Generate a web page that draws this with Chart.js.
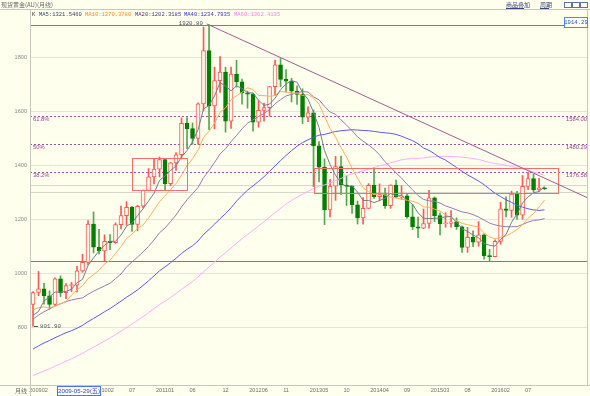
<!DOCTYPE html>
<html lang="zh-CN">
<head>
<meta charset="UTF-8">
<title>现货黄金 月线</title>
<script src="https://cdn.jsdelivr.net/npm/chart.js@4.4.0/dist/chart.umd.min.js"></script>
<style>
  html, body { margin: 0; padding: 0; background: #ffffee; }
  #wrap { width: 590px; height: 396px; }
</style>
</head>
<body>
<div id="wrap"><canvas id="kChart" width="590" height="396"></canvas></div>
<script>
// 月线 200901 .. 201610
const months = [
  '200901','200902','200903','200904','200905','200906','200907','200908','200909','200910','200911','200912',
  '201001','201002','201003','201004','201005','201006','201007','201008','201009','201010','201011','201012',
  '201101','201102','201103','201104','201105','201106','201107','201108','201109','201110','201111','201112',
  '201201','201202','201203','201204','201205','201206','201207','201208','201209','201210','201211','201212',
  '201301','201302','201303','201304','201305','201306','201307','201308','201309','201310','201311','201312',
  '201401','201402','201403','201404','201405','201406','201407','201408','201409','201410','201411','201412',
  '201501','201502','201503','201504','201505','201506','201507','201508','201509','201510','201511','201512',
  '201601','201602','201603','201604','201605','201606','201607','201608','201609','201610'
];
const openP = [
  884, 928, 942, 916, 884, 979, 927, 954, 955, 1008, 1040, 1182,
  1096, 1082, 1118, 1113, 1180, 1213, 1244, 1181, 1248, 1307, 1357, 1386,
  1421, 1332, 1409, 1439, 1556, 1536, 1500, 1628, 1826, 1620, 1714, 1746,
  1564, 1738, 1710, 1669, 1664, 1560, 1604, 1614, 1692, 1773, 1719, 1712,
  1675, 1663, 1579, 1595, 1472, 1393, 1234, 1323, 1395, 1327, 1323, 1253,
  1205, 1240, 1326, 1284, 1291, 1250, 1327, 1282, 1287, 1209, 1172, 1167,
  1184, 1279, 1213, 1183, 1184, 1190, 1172, 1095, 1133, 1115, 1142, 1065,
  1061, 1118, 1238, 1233, 1293, 1215, 1322, 1351, 1309, 1316
];
const highP = [
  931, 1006, 962, 934, 982, 990, 961, 966, 1025, 1070, 1195, 1227,
  1162, 1142, 1143, 1186, 1249, 1265, 1248, 1252, 1308, 1388, 1424, 1431,
  1423, 1411, 1447, 1576, 1577, 1557, 1632, 1913, 1920.8, 1764, 1803, 1764,
  1764, 1790, 1720, 1676, 1668, 1640, 1631, 1693, 1790, 1796, 1755, 1723,
  1695, 1684, 1617, 1605, 1488, 1424, 1348, 1433, 1434, 1361, 1324, 1267,
  1280, 1332, 1392, 1331, 1315, 1328, 1345, 1324, 1292, 1255, 1208, 1238,
  1307, 1283, 1224, 1224, 1232, 1205, 1175, 1170, 1157, 1191, 1146, 1088,
  1123, 1263, 1283, 1304, 1303, 1362, 1375, 1367, 1352, 1318
];
const lowP = [
  801.9, 916, 885, 866, 880, 913, 905, 931, 930, 1003, 1030, 1075,
  1071, 1045, 1087, 1110, 1164, 1177, 1155, 1157, 1242, 1305, 1331, 1357,
  1308, 1324, 1381, 1423, 1462, 1478, 1478, 1603, 1532, 1535, 1670, 1523,
  1537, 1690, 1627, 1612, 1527, 1541, 1564, 1582, 1660, 1691, 1672, 1635,
  1626, 1555, 1562, 1321, 1338, 1180, 1208, 1270, 1291, 1251, 1221, 1182,
  1182, 1238, 1277, 1268, 1240, 1240, 1281, 1273, 1204, 1161, 1131, 1165,
  1167, 1191, 1142, 1170, 1170, 1162, 1077, 1077, 1098, 1100, 1052, 1046,
  1060, 1107, 1208, 1207, 1199, 1200, 1310, 1301, 1303, 1310
];
const closeP = [
  928, 942, 916, 884, 979, 927, 954, 955, 1008, 1040, 1182, 1096,
  1082, 1118, 1113, 1180, 1213, 1244, 1181, 1248, 1307, 1357, 1386, 1421,
  1332, 1409, 1439, 1556, 1536, 1500, 1628, 1826, 1620, 1714, 1746, 1564,
  1738, 1710, 1669, 1664, 1560, 1604, 1614, 1692, 1773, 1719, 1712, 1675,
  1663, 1579, 1595, 1472, 1393, 1234, 1323, 1395, 1327, 1323, 1253, 1205,
  1240, 1326, 1284, 1291, 1250, 1327, 1282, 1287, 1209, 1172, 1167, 1184,
  1279, 1213, 1183, 1184, 1190, 1172, 1095, 1133, 1115, 1142, 1065, 1061,
  1118, 1238, 1233, 1293, 1215, 1322, 1351, 1309, 1316, 1312
];
// closes before 200901 (200402..200812), only feed the moving averages at the left edge
const prevCloses = [
  396, 427, 388, 393, 395, 391, 408, 416, 429, 453, 438,
  422, 434, 428, 435, 417, 437, 429, 434, 473, 470, 495, 513,
  568, 556, 582, 654, 643, 614, 633, 623, 599, 604, 646, 632,
  650, 665, 662, 679, 659, 650, 665, 673, 743, 789, 783, 834,
  923, 972, 916, 865, 886, 926, 913, 833, 871, 718, 815, 884
];

// axis ticks
const yTicks = [800, 1000, 1200, 1400, 1600, 1800];
const xTickIdx  = [1, 13, 18, 24, 29, 35, 41, 46, 52, 57, 63, 68, 74, 79, 85, 90];
const xTickText = ['200902','201002','07','201101','06','12','201206','11','201305','10','201404','09','201503','08','201602','07'];

// drawn lines / levels
const fibLevels = [1584.00, 1480.29, 1376.58];
const fibNames  = ['61.8%', '50%', '38.2%'];
const grayLevels = [1327, 1300];
const highLevel = 1920.8, lowLevel = 1046;
const trendLine = [[31.6, 1924.5], [100.9, 1278.7]];
const boxes = [[18, 28, 1308, 1427], [51.1, 95.4, 1296, 1389]];

const maDefs = [
  { n: 5,  line: '#6f7f8f', text: '#334466', label: 'MA5:1321.5460' },
  { n: 10, line: '#ffad5c', text: '#ff8a1e', label: 'MA10:1270.3780' },
  { n: 20, line: '#9a78b4', text: '#4a3490', label: 'MA20:1202.3185' },
  { n: 40, line: '#5a5af0', text: '#3434d0', label: 'MA40:1234.7935' },
  { n: 60, line: '#ffaaff', text: '#ff7cf0', label: 'MA60:1362.4135' }
];
const legendX = [39, 85, 135, 184, 234];

const UP = '#ff5656', DOWN = '#007f00', DOWN_WICK = '#52a852', BG = '#ffffee';

const allCloses = prevCloses.concat(closeP);
function movingAvg(n) {
  return closeP.map((c, i) => {
    const end = prevCloses.length + i + 1;
    const win = allCloses.slice(end - n, end);
    return { x: i, y: win.reduce((a, b) => a + b, 0) / n };
  });
}

const isUp = closeP.map((c, i) => c >= openP[i]);
const wickData = months.map((m, i) => ({ x: i, y: [lowP[i], highP[i]] }));
const bodyData = months.map((m, i) => ({ x: i, y: [Math.min(openP[i], closeP[i]), Math.max(openP[i], closeP[i])] }));

function hline(ctx, a, py) {
  ctx.beginPath(); ctx.moveTo(a.left, py); ctx.lineTo(a.right, py); ctx.stroke();
}

const overlay = {
  id: 'overlay',
  beforeDatasetsDraw(chart) {
    const { ctx, chartArea: a, scales: { x, y } } = chart;
    ctx.save();
    ctx.beginPath(); ctx.rect(a.left, a.top, a.width, a.height); ctx.clip();
    ctx.lineWidth = 1;
    ctx.strokeStyle = '#d6d6cc';
    grayLevels.forEach(v => hline(ctx, a, Math.round(y.getPixelForValue(v)) + 0.5));
    ctx.strokeStyle = '#a4509e';
    ctx.setLineDash([2, 2]);
    fibLevels.forEach(v => hline(ctx, a, Math.round(y.getPixelForValue(v)) + 0.5));
    ctx.setLineDash([]);
    ctx.strokeStyle = '#ac6496';
    [highLevel, lowLevel].forEach(v => hline(ctx, a, Math.round(y.getPixelForValue(v)) + 0.5));
    ctx.restore();
  },
  afterDatasetsDraw(chart) {
    const { ctx, chartArea: a, scales: { x, y } } = chart;
    ctx.save();
    ctx.beginPath(); ctx.rect(a.left, a.top, a.width, a.height); ctx.clip();
    // 框
    ctx.strokeStyle = '#ff6a6a'; ctx.lineWidth = 1;
    boxes.forEach(b => {
      const x1 = Math.round(x.getPixelForValue(b[0])) + 0.5, x2 = Math.round(x.getPixelForValue(b[1])) + 0.5;
      const y1 = Math.round(y.getPixelForValue(b[3])) + 0.5, y2 = Math.round(y.getPixelForValue(b[2])) + 0.5;
      ctx.strokeRect(x1, y1, x2 - x1, y2 - y1);
    });
    // 下降趋势线
    ctx.strokeStyle = '#a45a92';
    ctx.beginPath();
    ctx.moveTo(x.getPixelForValue(trendLine[0][0]), y.getPixelForValue(trendLine[0][1]));
    ctx.lineTo(x.getPixelForValue(trendLine[1][0]), y.getPixelForValue(trendLine[1][1]));
    ctx.stroke();
    // fib labels
    ctx.font = '5.8px "Liberation Sans"';
    ctx.fillStyle = '#a0409a';
    ctx.textBaseline = 'top';
    fibLevels.forEach((v, i) => {
      const py = y.getPixelForValue(v) + 1;
      ctx.textAlign = 'left';
      ctx.fillText(fibNames[i], a.left + 3, py);
      ctx.textAlign = 'right';
      ctx.fillText(v.toFixed(2), a.right - 1, py);
    });
    // high / low marks
    ctx.font = '5.8px "Liberation Mono"';
    ctx.fillStyle = '#445566';
    ctx.textBaseline = 'middle';
    ctx.textAlign = 'right';
    const hi = highP.indexOf(Math.max(...highP));
    ctx.fillText(highP[hi].toFixed(2), x.getPixelForValue(hi) - 6, y.getPixelForValue(highP[hi]) - 1);
    const lo = lowP.indexOf(Math.min(...lowP));
    const lx = x.getPixelForValue(lo), ly = Math.round(y.getPixelForValue(lowP[lo])) + 0.5;
    ctx.strokeStyle = '#445566';
    ctx.beginPath(); ctx.moveTo(lx + 1, ly); ctx.lineTo(lx + 5, ly); ctx.stroke();
    ctx.textAlign = 'left';
    ctx.fillText(lowP[lo].toFixed(2), lx + 7, ly);
    ctx.restore();
  },
  afterDraw(chart) {
    const { ctx } = chart;
    ctx.save();
    ctx.lineWidth = 1;
    ctx.strokeStyle = '#c8c8bc';
    ctx.beginPath();
    ctx.moveTo(0, 9.5); ctx.lineTo(590, 9.5);
    ctx.moveTo(0, 385.5); ctx.lineTo(590, 385.5);
    ctx.moveTo(30.5, 9.5); ctx.lineTo(30.5, 396);
    ctx.moveTo(587.5, 9.5); ctx.lineTo(587.5, 385.5);
    ctx.stroke();

    // 标题
    ctx.textBaseline = 'middle';
    ctx.textAlign = 'left';
    ctx.font = '6px "Noto Sans CJK SC"';
    ctx.fillStyle = '#666666';
    ctx.fillText('现货黄金(AU)(月线)', 1, 5);
    ctx.fillStyle = '#334488';
    ctx.fillText('商品叠加', 506, 5);
    ctx.fillText('周期', 540, 5);
    ctx.strokeStyle = '#334488';
    ctx.beginPath();
    ctx.moveTo(506, 8.5); ctx.lineTo(524, 8.5);
    ctx.moveTo(540, 8.5); ctx.lineTo(549, 8.5);
    ctx.stroke();
    ctx.strokeStyle = '#5577aa';
    [564.5, 572.5, 580.5].forEach(bx => ctx.strokeRect(bx, 2.5, 7, 5));

    // 均线图例
    ctx.font = '5.5px "Liberation Mono"';
    ctx.fillStyle = '#333333';
    ctx.fillText('K', 32, 14.5);
    maDefs.forEach((m, i) => {
      ctx.fillStyle = m.text;
      ctx.fillText(m.label, legendX[i], 14.5);
    });

    // 右上角数值
    ctx.fillStyle = BG;
    ctx.fillRect(564, 17, 24, 11);
    ctx.strokeStyle = '#5a82ff';
    ctx.strokeRect(564.5, 17.5, 23, 10);
    ctx.fillStyle = '#3050d8';
    ctx.textAlign = 'center';
    ctx.font = '5.6px "Liberation Mono"';
    ctx.fillText('1914.29', 576, 23);

    // 底部
    ctx.font = '6px "Noto Sans CJK SC"';
    ctx.fillStyle = '#666666';
    ctx.textAlign = 'right';
    ctx.fillText('月线', 27, 391);
    ctx.fillStyle = BG;
    ctx.fillRect(57, 386, 44, 10);
    ctx.strokeStyle = '#4a72ff';
    ctx.strokeRect(57.5, 386.5, 43, 9);
    ctx.fillStyle = '#2448e0';
    ctx.textAlign = 'center';
    ctx.font = '6.2px "Liberation Sans", "Noto Sans CJK SC"';
    ctx.fillText('2009-05-29(五)', 79, 391.5);
    ctx.restore();
  }
};

const datasets = [
  {
    type: 'bar', label: 'wick', data: wickData, order: 3, grouped: false,
    barThickness: 1, borderWidth: 0,
    backgroundColor: isUp.map(u => u ? UP : DOWN_WICK)
  },
  {
    type: 'bar', label: 'body', data: bodyData, order: 2, grouped: false,
    barThickness: 4, minBarLength: 1, borderWidth: 1, borderSkipped: false,
    backgroundColor: isUp.map(u => u ? BG : DOWN),
    borderColor: isUp.map(u => u ? UP : DOWN)
  }
];
maDefs.forEach(m => datasets.push({
  type: 'line', label: 'MA' + m.n, data: movingAvg(m.n), order: 1,
  borderColor: m.line, borderWidth: 1, pointRadius: 0, tension: 0, fill: false
}));

const ctx = document.getElementById('kChart').getContext('2d');
const chart = new Chart(ctx, {
  type: 'bar',
  data: { datasets: datasets },
  plugins: [overlay],
  options: {
    responsive: false,
    animation: false,
    events: [],
    layout: { padding: { top: 20, right: 2, left: 0, bottom: 0 } },
    plugins: { legend: { display: false }, tooltip: { enabled: false } },
    scales: {
      x: {
        type: 'linear', min: -0.55, max: 100.9, offset: false,
        grid: { display: false, drawTicks: false, offset: false },
        border: { display: false },
        afterBuildTicks: s => { s.ticks = xTickIdx.map(v => ({ value: v })); },
        afterFit: s => { s.height = 11; },
        ticks: {
          autoSkip: false, maxRotation: 0, padding: 2,
          color: '#707070', font: { family: 'Liberation Sans', size: 5.6 },
          callback: v => xTickText[xTickIdx.indexOf(v)]
        }
      },
      y: {
        min: 584.8, max: 1939.1,
        grid: { color: '#e4e4d8', drawTicks: false },
        border: { display: false },
        afterBuildTicks: s => { s.ticks = yTicks.map(v => ({ value: v })); },
        afterFit: s => { s.width = 30; },
        ticks: {
          padding: 3, color: '#8a8a8a', font: { family: 'Liberation Sans', size: 5.6 },
          callback: v => String(v)
        }
      }
    }
  }
});
</script>
</body>
</html>
